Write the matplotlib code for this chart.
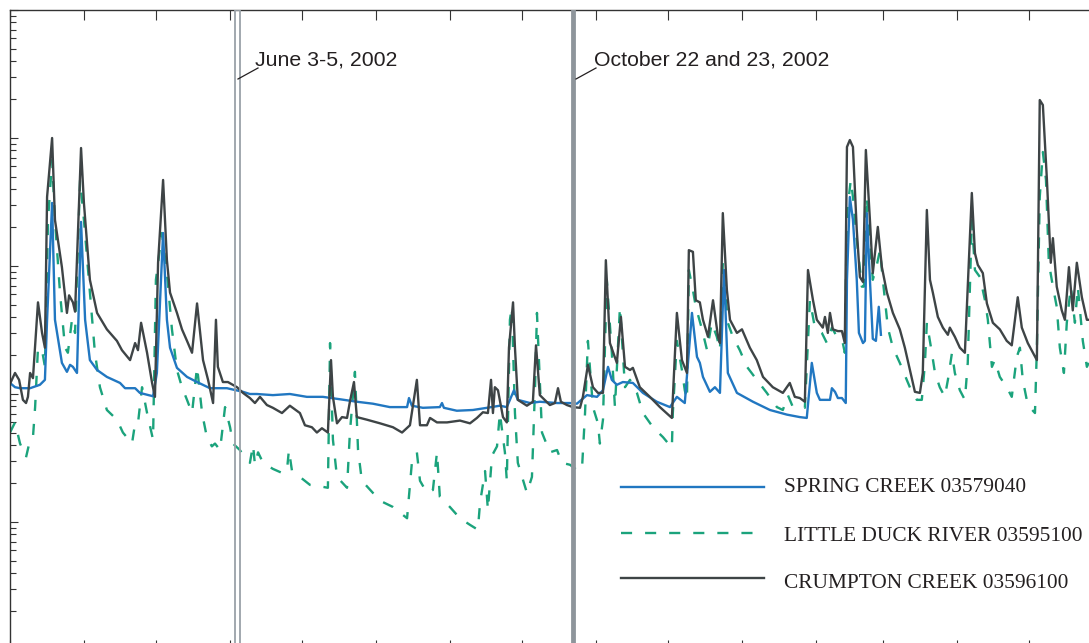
import datetime as dt
import matplotlib
matplotlib.use("Agg")
import matplotlib.pyplot as plt
import matplotlib.dates as mdates
from matplotlib.ticker import LogLocator, NullFormatter

# ---------------- data (days since 1 March 2002, discharge) ----------------
START = dt.datetime(2002, 3, 1)

spring_day = [0, 2.1, 4.2, 8.4, 12.5, 14.6, 15.5, 17.6, 18.8, 21.7,
              23.8, 25.1, 26.3, 28.0, 29.7, 31.4, 33.4, 36.4, 40.5, 46.0,
              48.1, 52.3, 54.3, 59.8, 61.4, 64.0, 65.6, 66.9, 69.8, 74.0,
              78.2, 83.6, 90.7, 97.4, 100.3, 103.2, 109.9, 117.0, 124.1, 130.8,
              137.9, 145.0, 151.7, 158.8, 166.0, 166.8, 168.0, 172.6, 179.7, 180.6,
              181.4, 186.8, 193.5, 199.4, 204.8, 207.7, 210.7, 212.3, 217.4, 221.5,
              228.7, 234.1, 237.0, 241.2, 245.4, 247.9, 250.0, 251.6, 253.7, 256.2,
              260.4, 264.6, 270.4, 275.9, 278.8, 282.1, 285.1, 287.2, 288.4, 289.7,
              292.6, 294.7, 296.8, 298.5, 300.1, 303.9, 310.6, 317.7, 324.8, 330.2,
              333.1, 335.2, 337.3, 338.6, 342.8, 343.6, 344.9, 346.1, 347.8, 349.4,
              349.9, 351.1, 352.4, 354.0, 354.9, 356.6, 357.4, 358.2, 359.5, 360.7,
              362.0, 363.2, 364.1]
spring_q = [12.2, 11.3, 11.1, 11.1, 11.8, 12.9, 38, 311, 38, 17.5,
            14.9, 16.9, 16.3, 14.6, 221, 38, 18.4, 15.4, 13.6, 12.2,
            11.1, 11.1, 10.2, 9.6, 14.6, 181, 38, 23, 16.0, 13.6,
            12.4, 11.1, 11.1, 10.4, 10.0, 10.0, 9.8, 10.0, 9.5, 9.5,
            9.1, 8.7, 8.4, 7.9, 7.9, 9.3, 8.1, 7.8, 7.9, 8.5,
            7.8, 7.4, 7.5, 7.8, 8.1, 7.9, 10.7, 9.0, 8.5, 8.7,
            8.5, 8.5, 8.4, 9.8, 9.5, 10.7, 16.3, 12.9, 11.8, 12.4,
            12.2, 10.2, 8.7, 7.9, 9.5, 8.5, 43, 19.5, 17.5, 13.6,
            10.4, 11.3, 10.2, 93, 14.6, 10.2, 8.7, 7.5, 6.9, 6.6,
            6.5, 17.5, 10.2, 9.0, 9.0, 11.1, 10.4, 9.3, 9.3, 8.5,
            78, 346, 229, 78, 30, 25, 26, 259, 78, 27,
            26, 48, 29]

duck_day = [0, 2.1, 4.2, 6.7, 8.4, 9.6, 10.5, 11.7, 13.4, 14.6,
            15.9, 17.6, 18.8, 20.9, 23.0, 24.2, 25.9, 27.2, 29.3, 30.9,
            33.4, 35.5, 37.6, 40.5, 44.7, 47.2, 51.0, 52.3, 53.5, 55.2,
            57.3, 59.8, 61.0, 63.5, 65.6, 67.7, 69.8, 71.9, 74.0, 76.1,
            78.2, 80.3, 82.3, 84.4, 85.7, 87.8, 89.9, 92.0, 93.2, 96.1,
            98.2, 100.3, 101.6, 102.4, 103.7, 105.8, 109.9, 114.1, 115.8, 116.6,
            117.9, 121.2, 125.4, 129.6, 132.9, 133.8, 135.0, 136.7, 140.9, 142.1,
            144.2, 145.5, 147.1, 151.7, 155.9, 160.1, 166.0, 168.0, 170.1, 171.4,
            174.3, 176.8, 178.5, 179.7, 183.9, 188.1, 192.3, 195.6, 196.5, 198.6,
            199.8, 201.5, 203.6, 204.8, 206.9, 207.7, 209.0, 209.8, 211.1, 212.3,
            216.1, 218.2, 219.5, 220.3, 222.4, 225.7, 228.7, 230.7, 234.1, 237.0,
            239.1, 240.4, 241.6, 243.7, 245.8, 246.6, 247.9, 249.5, 251.6, 252.9,
            255.0, 257.1, 259.2, 262.1, 264.6, 268.8, 273.0, 276.7, 277.1, 278.8,
            280.9, 282.1, 283.0, 283.8, 285.5, 286.7, 289.3, 291.4, 293.4, 295.5,
            296.8, 298.0, 300.1, 302.2, 305.1, 308.1, 312.2, 316.4, 320.6, 323.1,
            325.2, 327.3, 330.2, 332.3, 334.4, 336.5, 339.4, 341.5, 343.6, 345.7,
            347.8, 349.0, 349.9, 351.5, 352.4, 354.0, 356.1, 357.0, 358.2, 359.5,
            360.7, 362.4, 363.7, 364.9, 367.0, 369.1, 372.0, 374.9, 377.0, 379.1,
            381.2, 382.5, 383.3, 385.4, 386.7, 388.7, 390.8, 392.1, 393.8, 395.0,
            397.1, 399.2, 400.4, 402.1, 403.4, 405.5, 407.6, 408.8, 410.5, 411.7,
            413.8, 416.7, 418.8, 420.9, 422.2, 423.4, 425.5, 428.5, 429.3, 430.5,
            431.8, 433.1, 434.3, 436.0, 437.6, 438.9, 440.6, 441.8, 443.5, 445.2,
            446.4, 448.5, 450.2, 451.0]
duck_q = [5.0, 6.0, 4.1, 3.2, 4.4, 4.6, 7.9, 23, 22, 16.3,
          229, 673, 229, 62, 23, 21, 38, 30, 470, 229,
          62, 21, 11.3, 7.5, 6.3, 5.0, 4.1, 5.9, 5.9, 11.3,
          7.1, 4.4, 78, 181, 88, 32, 15.4, 11.3, 9.0, 7.1,
          16.3, 7.1, 4.6, 3.9, 4.1, 3.65, 7.9, 5.5, 4.1, 3.65,
          3.2, 2.9, 4.0, 2.8, 3.5, 2.9, 2.6, 2.4, 2.55, 3.65,
          2.5, 2.25, 1.95, 1.9, 1.85, 25, 4.4, 2.25, 1.85, 5.0,
          14.9, 3.65, 2.1, 1.69, 1.43, 1.31, 1.07, 2.9, 3.5, 2.1,
          1.69, 1.78, 3.5, 1.57, 1.31, 1.07, 0.95, 0.87, 1.41, 2.5,
          1.24, 3.3, 3.9, 7.1, 3.5, 2.1, 38, 48, 7.1, 2.9,
          1.69, 2.25, 11.3, 43, 5.0, 3.5, 3.65, 2.9, 2.8, 2.55,
          2.55, 7.1, 26, 7.9, 5.9, 4.1, 6.3, 78, 21, 7.9,
          48, 11.3, 12.9, 10.2, 7.1, 5.5, 4.6, 3.8, 7.1, 26,
          15.4, 10.7, 9.0, 93, 65, 48, 32, 22, 36, 28,
          22, 106, 36, 28, 22, 16.3, 12.9, 10.2, 7.9, 7.5,
          9.8, 7.9, 7.9, 7.8, 54, 33, 30, 25, 33, 28,
          27, 21, 259, 470, 346, 160, 69, 69, 346, 160,
          78, 102, 133, 78, 33, 23, 17.5, 12.9, 10.4, 9.0,
          9.0, 17.5, 36, 21, 14.6, 11.3, 9.5, 12.9, 21, 14.6,
          10.7, 9.0, 17.5, 229, 93, 82, 54, 38, 16.3, 18.4,
          13.6, 11.3, 9.5, 19.5, 23, 12.9, 8.2, 7.1, 23, 346,
          777, 470, 106, 69, 48, 23, 14.6, 36, 69, 36,
          69, 26, 16.3, 17.5]

crump_day = [0, 2.1, 3.8, 5.4, 6.7, 7.5, 8.4, 9.6, 11.7, 13.4,
             14.6, 15.5, 17.6, 18.8, 21.7, 23.8, 24.7, 26.3, 27.2, 29.7,
             30.9, 33.4, 36.4, 40.5, 44.7, 46.8, 50.2, 52.3, 53.5, 54.8,
             57.3, 59.4, 60.6, 61.9, 64.0, 65.6, 66.9, 69.8, 71.9, 74.0,
             76.1, 78.2, 80.7, 82.8, 84.9, 86.1, 86.9, 89.0, 91.1, 94.9,
             97.4, 100.3, 102.4, 104.5, 107.4, 109.9, 113.7, 117.0, 121.2, 123.3,
             126.2, 128.3, 130.4, 132.9, 134.2, 135.0, 136.7, 138.8, 140.9, 142.1,
             143.8, 145.0, 149.2, 154.7, 160.1, 163.9, 167.2, 170.1, 171.4, 174.3,
             175.6, 178.5, 182.7, 188.1, 192.3, 195.2, 197.7, 199.8, 201.1, 201.9,
             202.7, 204.0, 206.1, 207.7, 208.6, 210.3, 211.1, 212.3, 216.1, 218.6,
             219.9, 221.5, 225.7, 227.8, 229.1, 230.3, 232.8, 235.3, 238.3, 239.5,
             241.6, 243.7, 245.8, 247.9, 249.1, 250.8, 253.7, 255.4, 257.1, 259.2,
             260.4, 263.3, 267.5, 271.7, 276.7, 278.8, 280.9, 283.0, 283.8, 285.5,
             286.7, 288.4, 289.7, 291.8, 293.9, 296.0, 296.8, 298.0, 299.7, 301.0,
             303.9, 306.0, 309.3, 312.2, 314.8, 318.9, 323.1, 326.0, 328.1, 330.2,
             332.3, 333.6, 335.7, 337.3, 339.8, 340.7, 341.9, 342.8, 344.0, 346.1,
             347.8, 349.0, 349.9, 351.1, 352.4, 354.0, 355.3, 356.6, 357.8, 359.5,
             360.7, 362.8, 364.5, 366.6, 369.1, 372.0, 374.1, 376.2, 378.3, 380.4,
             381.6, 383.3, 384.6, 385.8, 387.9, 390.0, 392.1, 392.9, 395.0, 397.1,
             399.2, 402.1, 403.4, 404.6, 406.7, 408.4, 410.9, 413.8, 416.7, 418.8,
             421.3, 423.0, 425.5, 429.3, 430.5, 431.8, 433.5, 435.1, 436.0, 437.6,
             439.7, 441.0, 442.7, 444.3, 446.0, 448.1, 450.2, 451.0]
crump_q = [12, 14.6, 12.9, 9.0, 8.5, 9.5, 14.6, 13.3, 52, 30,
           23, 346, 1000, 229, 98, 43, 59, 52, 44, 835,
           311, 78, 43, 32, 26, 22, 18.4, 25, 22, 36,
           21, 12.2, 9.5, 106, 470, 111, 62, 43, 32, 26,
           21, 51, 18.4, 12.9, 8.5, 38, 16.3, 12.4, 12.4, 11.3,
           10.2, 9.3, 8.5, 9.5, 8.2, 7.8, 7.1, 8.1, 7.1, 5.7,
           5.5, 5.0, 5.4, 5.0, 18.4, 9.5, 5.9, 6.6, 6.5, 8.7,
           12.4, 6.6, 6.3, 5.9, 5.5, 5.0, 5.7, 12.9, 5.7, 5.7,
           6.5, 6.0, 6.0, 6.2, 5.9, 6.5, 7.2, 7.1, 12.9, 7.1,
           11.3, 10.7, 6.6, 6.0, 23, 52, 23, 9.0, 8.1, 8.7,
           24, 9.8, 8.2, 8.5, 11.1, 8.7, 8.2, 7.9, 7.8, 9.5,
           16.9, 11.3, 10.2, 10.2, 111, 25, 17.5, 40, 16.3, 15.4,
           16.0, 11.3, 9.5, 7.9, 6.5, 43, 18.4, 14.6, 133, 129,
           54, 52, 38, 28, 54, 28, 25, 259, 65, 38,
           30, 32, 23, 18.4, 13.6, 11.3, 10.2, 12.2, 9.5, 9.3,
           8.7, 93, 54, 38, 33, 40, 30, 43, 32, 31,
           31, 25, 851, 964, 851, 191, 82, 75, 806, 229,
           88, 202, 98, 62, 43, 32, 23, 15.4, 10.4, 10.2,
           14.6, 274, 78, 62, 40, 33, 29, 33, 28, 23,
           21, 372, 126, 102, 88, 51, 36, 32, 26, 24,
           57, 33, 25, 18.4, 1980, 1810, 470, 106, 165, 69,
           45, 38, 98, 45, 106, 57, 38, 38]

labels = ["SPRING CREEK 03579040", "LITTLE DUCK RIVER 03595100",
          "CRUMPTON CREEK 03596100"]
event_labels = ["June 3-5, 2002", "October 22 and 23, 2002"]
event_spans = [(dt.datetime(2002, 6, 3), dt.datetime(2002, 6, 5)),
               (dt.datetime(2002, 10, 22), dt.datetime(2002, 10, 23))]

# ---------------- styling ----------------
C_BLUE = "#2177c1"
C_GREEN = "#1ba37c"
C_DARK = "#3e4446"
C_EVENT = "#9aa1a8"
C_TEXT = "#231f20"
LW = 1.7
DASH = (0, (4.7, 5.5))


def to_dates(days):
    return [START + dt.timedelta(days=d) for d in days]


W, H = 1089, 643
fig = plt.figure(figsize=(W / 100, H / 100), dpi=100)
ax = fig.add_axes([10 / W, -7 / H, 1100 / W, 640 / H])
ax.set_yscale("log")
ax.set_ylim(0.1, 10000)
ax.set_xlim(START, START + dt.timedelta(days=1100 / 2.392))

ax.plot(to_dates(duck_day), duck_q, color=C_GREEN, lw=LW, ls=DASH, zorder=2)
ax.plot(to_dates(spring_day), spring_q, color=C_BLUE, lw=LW, zorder=2.1)
ax.plot(to_dates(crump_day), crump_q, color=C_DARK, lw=LW, zorder=2.2)

# event markers
(j0, j1), (o0, o1) = event_spans
ax.axvspan(j0, j1, facecolor="none", edgecolor=C_EVENT, lw=1.3, zorder=4)
ax.axvspan(o0, o1, facecolor="#8e959b", edgecolor="#8e959b", lw=1.3, zorder=4)


# annotations (axes-fraction positions)
def fx(px):
    return (px - 10) / 1100


def fy(py):
    return (650 - py) / 640


ax.text(fx(255), fy(66), event_labels[0], transform=ax.transAxes,
        family="Liberation Sans", fontsize=15.3, color=C_TEXT, va="baseline")
ax.plot([fx(238), fx(258)], [fy(79), fy(68)], transform=ax.transAxes,
        color=C_TEXT, lw=0.9, zorder=5)
ax.text(fx(594), fy(66), event_labels[1], transform=ax.transAxes,
        family="Liberation Sans", fontsize=15.3, color=C_TEXT, va="baseline")
ax.plot([fx(576), fx(596)], [fy(79), fy(68)], transform=ax.transAxes,
        color=C_TEXT, lw=0.9, zorder=5)

# legend (drawn manually)
leg_y = [487, 533, 578]
leg_base = [492, 541, 588]
leg_style = [dict(color=C_BLUE, ls="-"), dict(color=C_GREEN, ls=DASH),
             dict(color=C_DARK, ls="-")]
for yy, yb, st, lab in zip(leg_y, leg_base, leg_style, labels):
    ax.plot([fx(621), fx(764)], [fy(yy), fy(yy)], transform=ax.transAxes,
            lw=LW, zorder=5, **st)
    ax.text(fx(784), fy(yb), lab, transform=ax.transAxes,
            family="Liberation Serif", fontsize=15.4, color=C_TEXT,
            va="baseline", ha="left")

# axes / ticks
ax.xaxis.set_major_locator(mdates.MonthLocator())
ax.xaxis.set_major_formatter(NullFormatter())
ax.yaxis.set_major_locator(LogLocator(base=10, numticks=20))
ax.yaxis.set_minor_locator(LogLocator(base=10, subs=range(2, 10), numticks=20))
ax.yaxis.set_major_formatter(NullFormatter())
ax.yaxis.set_minor_formatter(NullFormatter())
ax.tick_params(axis="x", which="major", direction="in", top=True, bottom=True,
               length=7.5, width=0.8, color="#333333")
ax.tick_params(axis="x", which="minor", bottom=False, top=False)
ax.tick_params(axis="y", which="major", direction="in", left=True, right=False,
               length=5.5, width=0.8, color="#333333")
ax.tick_params(axis="y", which="minor", direction="in", left=True, right=False,
               length=4.3, width=0.8, color="#333333")
for s in ["top", "left"]:
    ax.spines[s].set_linewidth(1.0)
    ax.spines[s].set_color("#333333")
ax.spines["right"].set_visible(False)

fig.savefig("out.png", dpi=100)
